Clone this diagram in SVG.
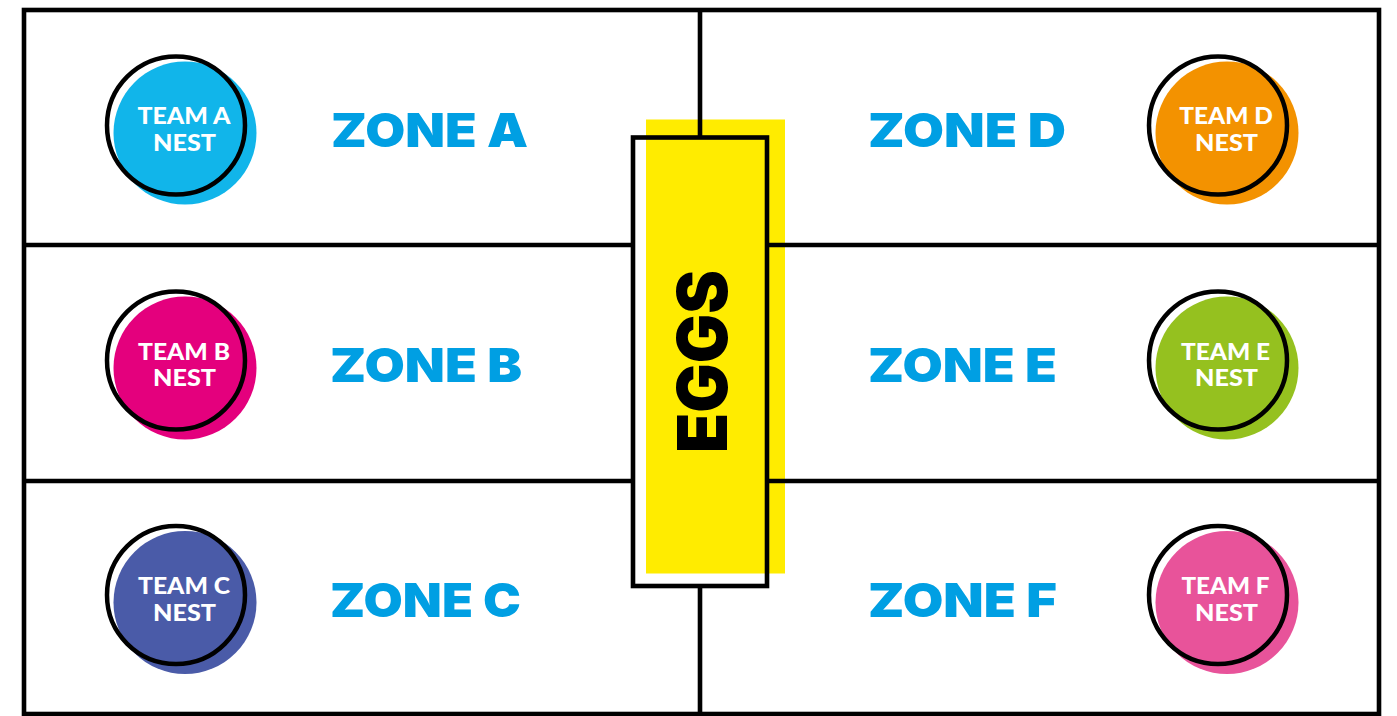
<svg xmlns="http://www.w3.org/2000/svg" width="1397" height="716" viewBox="0 0 1397 716">
<style>
.ln{stroke:#000;stroke-width:4.6;fill:none}
.ring{fill:none;stroke:#000;stroke-width:4.5}
.team{font-family:Lato,"Open Sans","Liberation Sans",sans-serif;font-weight:900;font-size:22.5px;fill:#fff;text-anchor:middle}
.zone{font-family:Inter,"DejaVu Sans","Liberation Sans",sans-serif;font-weight:900;font-size:47px;fill:#009FE3}
.eggs{font-family:Inter,"DejaVu Sans","Liberation Sans",sans-serif;font-weight:900;font-size:69px;fill:#000;text-anchor:middle}
</style>
<rect width="1397" height="716" fill="#fff"/>
<g id="eggs-fill">
<rect x="646" y="119.5" width="139" height="454" fill="#FFEC00"/>
</g>
<g id="grid">
<rect class="ln" x="24" y="10" width="1355" height="704"/>
<line class="ln" x1="700" y1="10" x2="700" y2="137.5"/>
<line class="ln" x1="700" y1="586" x2="700" y2="714"/>
<line class="ln" x1="24" y1="245" x2="633" y2="245"/>
<line class="ln" x1="767" y1="245" x2="1379" y2="245"/>
<line class="ln" x1="24" y1="481" x2="633" y2="481"/>
<line class="ln" x1="767" y1="481" x2="1379" y2="481"/>
</g>
<g id="eggs">
<rect class="ln" x="633" y="137.5" width="134" height="448.5" stroke-width="5"/>
<text class="eggs" transform="translate(727,361.5) rotate(-90)" x="0" y="0" textLength="183" lengthAdjust="spacingAndGlyphs">EGGS</text>
</g>
<g id="nest-a">
<circle cx="185" cy="133" r="71.5" fill="#11B5EA"/>
<circle class="ring" cx="176" cy="125.5" r="69"/>
<text class="team" x="184" y="124.3" textLength="93" lengthAdjust="spacingAndGlyphs">TEAM A</text>
<text class="team" x="184.5" y="151" textLength="63" lengthAdjust="spacingAndGlyphs">NEST</text>
</g>
<g id="nest-b">
<circle cx="185" cy="368" r="71.5" fill="#E4007D"/>
<circle class="ring" cx="176" cy="360.5" r="69"/>
<text class="team" x="184" y="359.5" textLength="92" lengthAdjust="spacingAndGlyphs">TEAM B</text>
<text class="team" x="184.5" y="386.2" textLength="63" lengthAdjust="spacingAndGlyphs">NEST</text>
</g>
<g id="nest-c">
<circle cx="185" cy="602.5" r="71.5" fill="#4A5BA8"/>
<circle class="ring" cx="176" cy="595" r="69"/>
<text class="team" x="184" y="594.3" textLength="92" lengthAdjust="spacingAndGlyphs">TEAM C</text>
<text class="team" x="184.5" y="621" textLength="63" lengthAdjust="spacingAndGlyphs">NEST</text>
</g>
<g id="nest-d">
<circle cx="1227" cy="133" r="71.5" fill="#F39200"/>
<circle class="ring" cx="1218" cy="125.5" r="69"/>
<text class="team" x="1226" y="124.3" textLength="93.5" lengthAdjust="spacingAndGlyphs">TEAM D</text>
<text class="team" x="1226.5" y="151" textLength="63" lengthAdjust="spacingAndGlyphs">NEST</text>
</g>
<g id="nest-e">
<circle cx="1227" cy="368" r="71.5" fill="#95C11F"/>
<circle class="ring" cx="1218" cy="360.5" r="69"/>
<text class="team" x="1225.5" y="359.5" textLength="89" lengthAdjust="spacingAndGlyphs">TEAM E</text>
<text class="team" x="1226.5" y="386.2" textLength="63" lengthAdjust="spacingAndGlyphs">NEST</text>
</g>
<g id="nest-f">
<circle cx="1227" cy="602.5" r="71.5" fill="#E8539A"/>
<circle class="ring" cx="1218" cy="595" r="69"/>
<text class="team" x="1225.5" y="594.3" textLength="88" lengthAdjust="spacingAndGlyphs">TEAM F</text>
<text class="team" x="1226.5" y="621" textLength="63" lengthAdjust="spacingAndGlyphs">NEST</text>
</g>
<g id="zone-a"><text class="zone" x="331" y="147" textLength="197" lengthAdjust="spacingAndGlyphs">ZONE A</text></g>
<g id="zone-b"><text class="zone" x="330" y="382" textLength="192" lengthAdjust="spacingAndGlyphs">ZONE B</text></g>
<g id="zone-c"><text class="zone" x="330" y="617" textLength="191" lengthAdjust="spacingAndGlyphs">ZONE C</text></g>
<g id="zone-d"><text class="zone" x="868" y="147" textLength="198" lengthAdjust="spacingAndGlyphs">ZONE D</text></g>
<g id="zone-e"><text class="zone" x="868" y="382" textLength="189" lengthAdjust="spacingAndGlyphs">ZONE E</text></g>
<g id="zone-f"><text class="zone" x="868" y="617" textLength="189" lengthAdjust="spacingAndGlyphs">ZONE F</text></g>
</svg>
